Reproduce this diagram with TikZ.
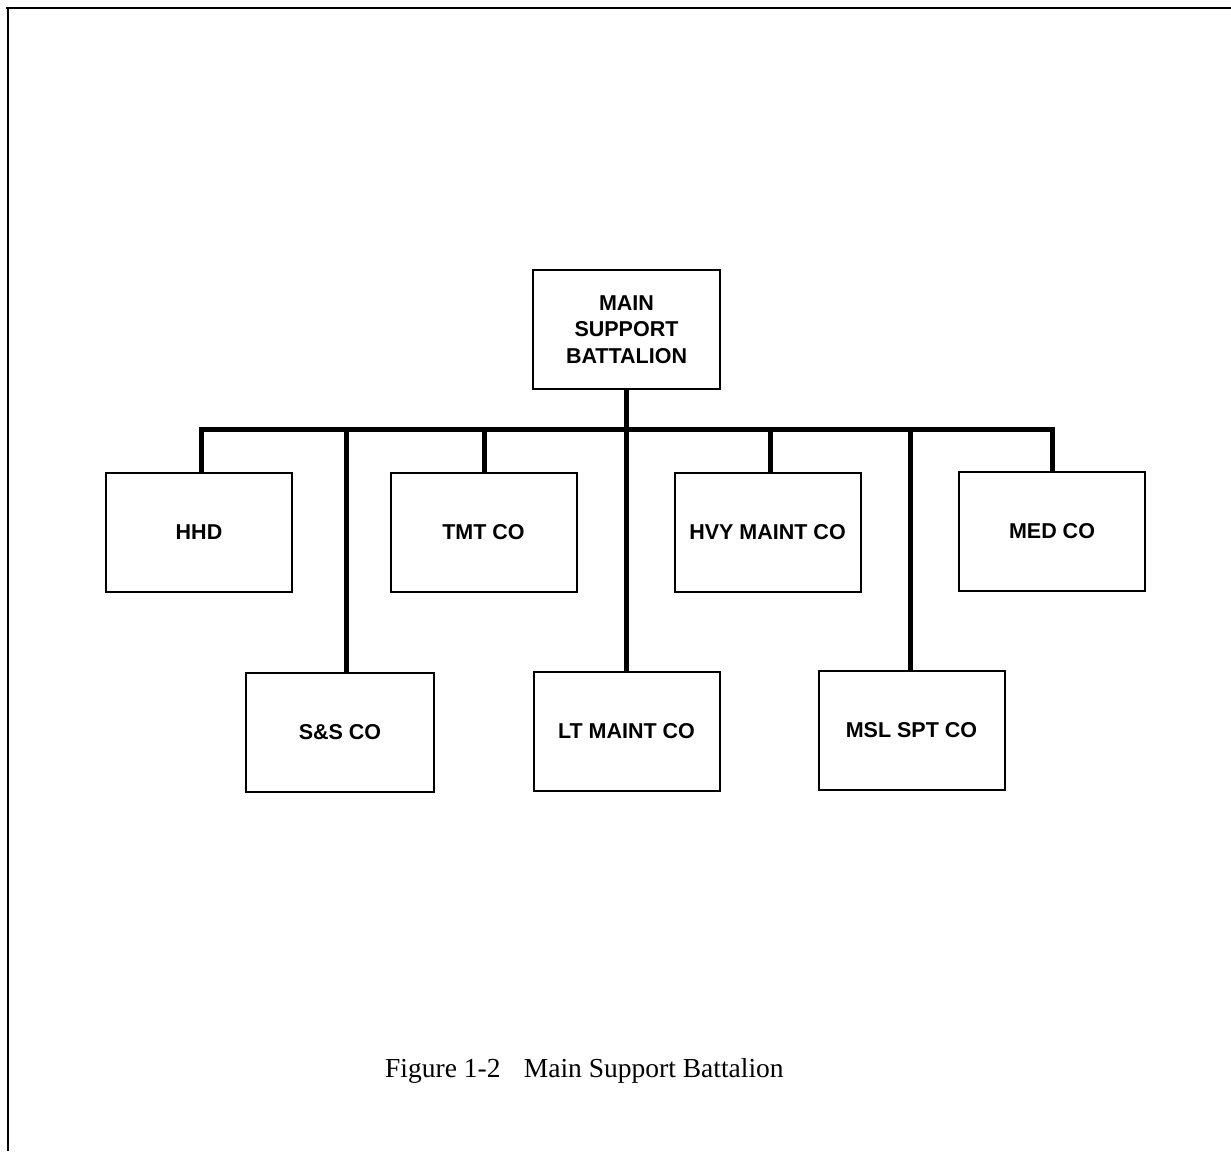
\documentclass[tikz,border=0pt]{standalone}
\usepackage{fontspec}
\setmainfont{Liberation Serif}
\newfontfamily\orgfont{Liberation Sans}

\tikzset{
  orgbox/.style={draw, line width=2pt, minimum width=186pt, minimum height=119pt,
    align=center, inner sep=0pt, font=\orgfont\bfseries\fontsize{21.5}{26.5}\selectfont},
  orgbus/.style={line width=5pt, line join=miter},
  orgframe/.style={line width=2pt}
}

\begin{document}
\begin{tikzpicture}[x=1pt, y=-1pt]
\useasboundingbox (0,0) rectangle (1231,1151);
\draw[orgframe] (6,8) -- (1231,8);
\draw[orgframe] (8,8) -- (8,1151);

\node[orgbox, minimum width=187pt] (msb) at (626.5,329.5) {MAIN\\SUPPORT\\BATTALION};
\node[orgbox] (hhd) at (199,532) {HHD};
\node[orgbox] (tmt) at (483.5,532) {TMT CO};
\node[orgbox] (hvy) at (767.5,532) {HVY MAINT CO};
\node[orgbox] (med) at (1052,531) {MED CO};
\node[orgbox, minimum width=188pt] (sns) at (340,732.5) {S\&S CO};
\node[orgbox] (ltm) at (626.5,731) {LT MAINT CO};
\node[orgbox] (msl) at (911.5,730) {MSL SPT CO};

\coordinate (busl) at (201,429);
\coordinate (busr) at (1052,429);
\coordinate (jsns) at (346,429);
\coordinate (jtmt) at (484,429);
\coordinate (jhvy) at (770,429);
\coordinate (jmsl) at (910,429);

\draw[orgbus] (hhd.north -| busl) -- (busl) -- (busr) -- (med.north -| busr);
\draw[orgbus] (msb.south) -- (ltm.north -| msb.south);
\draw[orgbus] (jsns) -- (sns.north -| jsns);
\draw[orgbus] (jtmt) -- (tmt.north -| jtmt);
\draw[orgbus] (jhvy) -- (hvy.north -| jhvy);
\draw[orgbus] (jmsl) -- (msl.north -| jmsl);

\node[anchor=base west, inner sep=0pt, font=\fontsize{27.5}{30}\selectfont] (cap) at (385,1077)
  {Figure 1-2\hspace{0.85em}Main Support Battalion};
\end{tikzpicture}
\end{document}
